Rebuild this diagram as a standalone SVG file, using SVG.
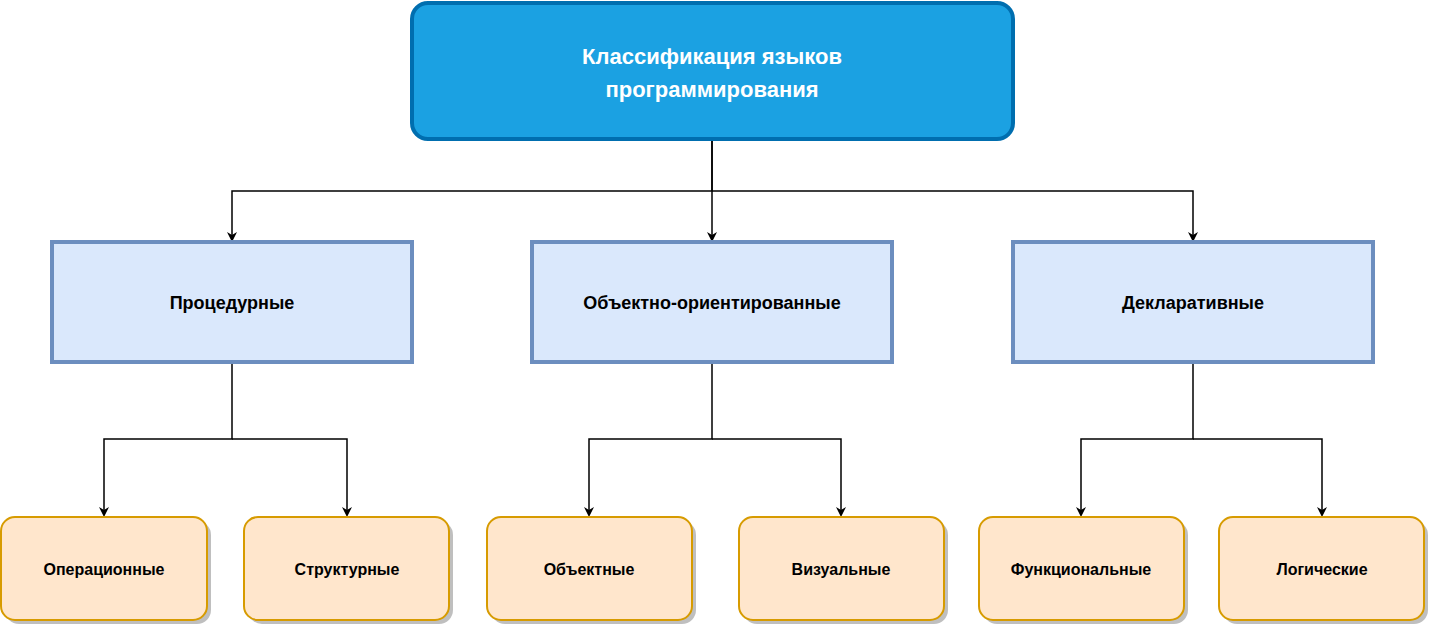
<svg xmlns="http://www.w3.org/2000/svg" width="1429" height="626" viewBox="0 0 1429 626">
<style>
text{font-family:Helvetica,"Liberation Sans",Arial,sans-serif;font-weight:bold;text-anchor:middle;dominant-baseline:central}
.top{fill:#1ba1e2;stroke:#006eaf;stroke-width:4}
.mid{fill:#dae8fc;stroke:#6c8ebf;stroke-width:4}
.leaf{fill:#ffe6cc;stroke:#d79b00;stroke-width:2}
.sh{fill:#000;opacity:0.25}
.c{fill:none;stroke:#000;stroke-width:1.5;marker-end:url(#a)}
</style>
<defs><marker id="a" markerWidth="10" markerHeight="10" refX="8" refY="5" orient="auto" markerUnits="userSpaceOnUse"><path d="M0,0 L10,5 L0,10 L3,5 Z" fill="#000"/></marker></defs>
<rect width="1429" height="626" fill="#fff"/>
<g id="connectors">
<path class="c" d="M712,139 V191 H232 V240"/>
<path class="c" d="M712,139 V240"/>
<path class="c" d="M712,191 H1193 V240"/>
<path class="c" d="M232,362 V439 H104 V515"/>
<path class="c" d="M232,439 H347 V515"/>
<path class="c" d="M712,362 V439 H589 V515"/>
<path class="c" d="M712,439 H841 V515"/>
<path class="c" d="M1193,362 V439 H1081 V515"/>
<path class="c" d="M1193,439 H1322 V515"/>
</g>
<g id="root"><rect class="top" x="412" y="3" width="601" height="136" rx="16"/><text x="712" y="56" fill="#fff" font-size="22">Классификация языков</text><text x="712" y="89" fill="#fff" font-size="22">программирования</text></g>
<g id="proc"><rect class="mid" x="52" y="242" width="360" height="120"/><text x="232" y="303" font-size="18">Процедурные</text></g>
<g id="oop"><rect class="mid" x="532" y="242" width="360" height="120"/><text x="712" y="303" font-size="18">Объектно-ориентированные</text></g>
<g id="decl"><rect class="mid" x="1013" y="242" width="360" height="120"/><text x="1193" y="303" font-size="18">Декларативные</text></g>
<g id="op"><rect class="sh" x="5" y="521" width="206" height="103" rx="14"/><rect class="leaf" x="1" y="517" width="206" height="103" rx="14"/><text x="104" y="569" font-size="16">Операционные</text></g>
<g id="str"><rect class="sh" x="248" y="521" width="205" height="103" rx="14"/><rect class="leaf" x="244" y="517" width="205" height="103" rx="14"/><text x="347" y="569" font-size="16">Структурные</text></g>
<g id="obj"><rect class="sh" x="491" y="521" width="205" height="103" rx="14"/><rect class="leaf" x="487" y="517" width="205" height="103" rx="14"/><text x="589" y="569" font-size="16">Объектные</text></g>
<g id="vis"><rect class="sh" x="743" y="521" width="205" height="103" rx="14"/><rect class="leaf" x="739" y="517" width="205" height="103" rx="14"/><text x="841" y="569" font-size="16">Визуальные</text></g>
<g id="fun"><rect class="sh" x="983" y="521" width="205" height="103" rx="14"/><rect class="leaf" x="979" y="517" width="205" height="103" rx="14"/><text x="1081" y="569" font-size="16">Функциональные</text></g>
<g id="log"><rect class="sh" x="1223" y="521" width="205" height="103" rx="14"/><rect class="leaf" x="1219" y="517" width="205" height="103" rx="14"/><text x="1322" y="569" font-size="16">Логические</text></g>
</svg>
